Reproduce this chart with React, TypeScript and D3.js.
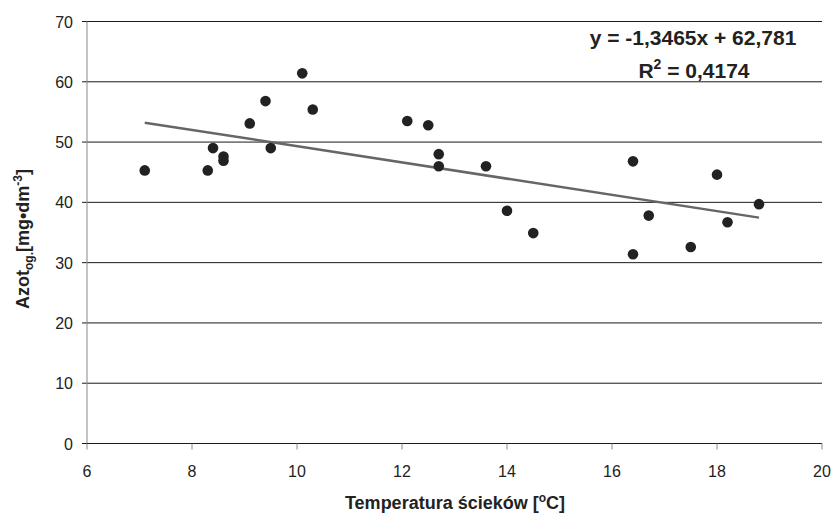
import React from "react";
import * as d3 from "d3";

const temperature = [7.1, 8.3, 8.4, 8.6, 8.6, 9.1, 9.4, 9.5, 10.1, 10.3, 12.1, 12.5, 12.7, 12.7, 13.6, 14.0, 14.5, 16.4, 16.4, 16.7, 17.5, 18.0, 18.2, 18.8];
const nitrogen = [45.3, 45.3, 49.0, 47.6, 46.9, 53.1, 56.8, 49.0, 61.4, 55.4, 53.5, 52.8, 48.0, 46.0, 46.0, 38.6, 34.9, 46.8, 31.4, 37.8, 32.6, 44.6, 36.7, 39.7];
const xTicks = [6, 8, 10, 12, 14, 16, 18, 20];
const yTicks = [0, 10, 20, 30, 40, 50, 60, 70];
const slope = -1.3465;
const intercept = 62.781;
const equationText = "y = -1,3465x + 62,781";
const r2Text = " = 0,4174";

export default function App() {
  const W = 834, H = 515;
  const x = d3.scaleLinear().domain([6, 20]).range([87, 822]);
  const y = d3.scaleLinear().domain([0, 70]).range([443.5, 21.5]);
  const font = "Arial, 'Liberation Sans', sans-serif";
  const xMin = d3.min(temperature) as number;
  const xMax = d3.max(temperature) as number;
  const line = d3.line<number>().x(d => x(d)).y(d => y(slope * d + intercept));
  return (
    <svg width={W} height={H} style={{ position: "absolute", left: 0, top: 0 }} fontFamily={font}>
      <rect width={W} height={H} fill="#fff" />
      {yTicks.filter(t => t > 0).map(t => (
        <line key={"g" + t} x1={x(6) - 5} x2={x(20)} y1={y(t)} y2={y(t)} stroke="#1a1a1a" strokeWidth={1} />
      ))}
      <line x1={x(6)} x2={x(6)} y1={y(70)} y2={y(0)} stroke="#888" strokeWidth={1} />
      <line x1={x(6) - 5} x2={x(20)} y1={y(0)} y2={y(0)} stroke="#1a1a1a" strokeWidth={1} />
      {xTicks.map(t => (
        <line key={"xt" + t} x1={x(t)} x2={x(t)} y1={y(0)} y2={y(0) + 6} stroke="#888" strokeWidth={1} />
      ))}
      {yTicks.map(t => (
        <text key={"yl" + t} x={73} y={y(t) + 6} textAnchor="end" fontSize={16} fill="#222">{t}</text>
      ))}
      {xTicks.map(t => (
        <text key={"xl" + t} x={x(t)} y={477} textAnchor="middle" fontSize={16} fill="#222">{t}</text>
      ))}
      <path d={line([xMin, xMax]) || ""} stroke="#666" strokeWidth={2.5} fill="none" />
      {temperature.map((t, i) => (
        <circle key={"p" + i} cx={x(t)} cy={y(nitrogen[i])} r={5.3} fill="#222" />
      ))}
      <text x={693} y={45} textAnchor="middle" fontSize={21} fontWeight="bold" fill="#222">{equationText}</text>
      <text x={694} y={78} textAnchor="middle" fontSize={21} fontWeight="bold" fill="#222">
        R<tspan dy={-9} fontSize={14}>2</tspan><tspan dy={9}>{r2Text}</tspan>
      </text>
      <text x={455} y={509} textAnchor="middle" fontSize={18} fontWeight="bold" fill="#222">
        Temperatura ścieków [<tspan dy={-7} fontSize={12}>o</tspan><tspan dy={7}>C]</tspan>
      </text>
      <text transform={`translate(29, 239) rotate(-90)`} textAnchor="middle" fontSize={18} fontWeight="bold" fill="#222">
        Azot<tspan dy={4} fontSize={12}>og.</tspan><tspan dy={-4}>[mg•dm</tspan><tspan dy={-7} fontSize={12}>-3</tspan><tspan dy={7}>]</tspan>
      </text>
    </svg>
  );
}
